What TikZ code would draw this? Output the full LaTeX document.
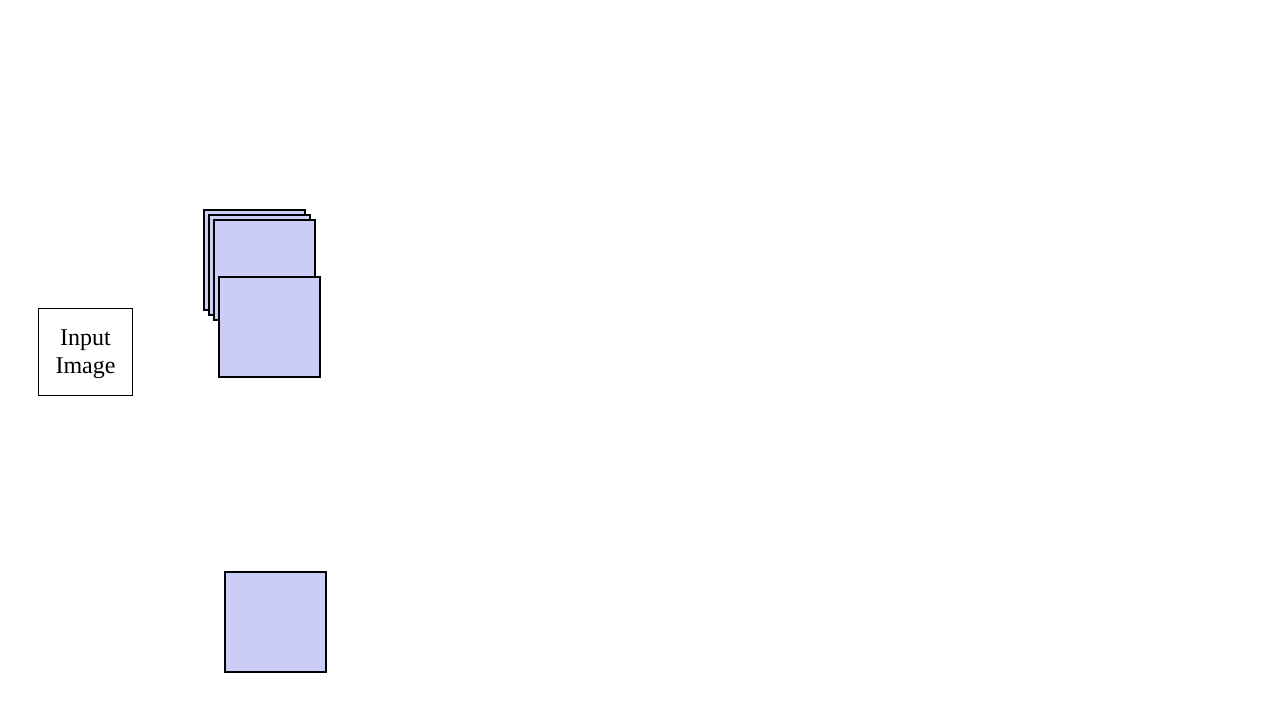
\documentclass[tikz,border=0pt]{standalone}
\usepackage{fontspec}
\setmainfont{Liberation Serif}
\definecolor{mapfill}{HTML}{CCCCF8}
\begin{document}
\begin{tikzpicture}[x=0.5pt,y=-0.5pt,
  inbox/.style={draw=black, line width=0.5pt, fill=white, inner sep=0pt,
    minimum width=47pt, minimum height=43.5pt},
  inlabel/.style={inner sep=0pt, align=center,
    font=\fontsize{12pt}{14pt}\selectfont},
  fmap/.style={draw=black, line width=1pt, fill=mapfill, inner sep=0pt,
    minimum width=50.5pt, minimum height=50pt}]
\useasboundingbox[fill=white] (0,0) rectangle (1280,720);
% input
\node[inbox] (input) at (85,351.5) {};
\node[inlabel] (inputtext) at (85.5,354) {Input\\Image};
% stacked feature maps
\node[fmap] (m1) at (254.5,260) {};
\node[fmap] (m2) at (259.5,265) {};
\node[fmap] (m3) at (264.5,270) {};
\node[fmap] (m4) at (269.5,327) {};
% single map below
\node[fmap] (m5) at (275,622) {};
\end{tikzpicture}
\end{document}
